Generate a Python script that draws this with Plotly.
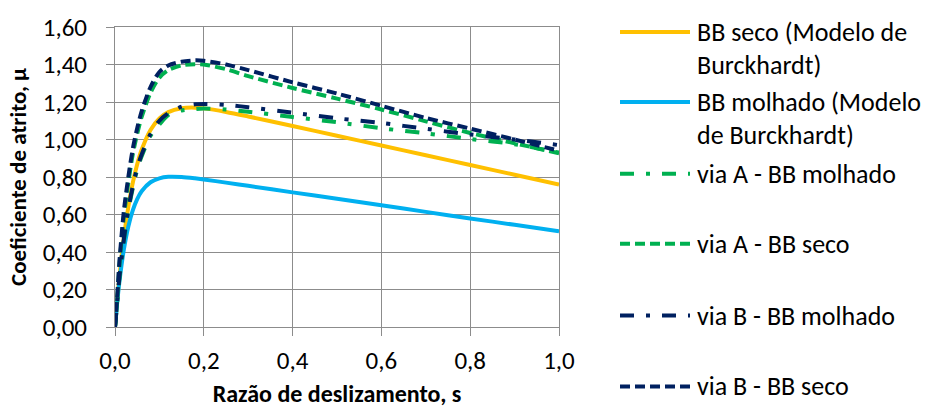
import plotly.graph_objects as go

# slip ratio grid
s = [0, 0.005, 0.01, 0.02, 0.03, 0.04, 0.05, 0.06, 0.08, 0.10, 0.12, 0.15,
     0.18, 0.2, 0.25, 0.3, 0.4, 0.5, 0.6, 0.7, 0.8, 0.9, 1.0]

bb_seco_burck = [0, 0.142, 0.268, 0.478, 0.641, 0.769, 0.868, 0.945, 1.051, 1.112, 1.146, 1.167,
                 1.170, 1.166, 1.147, 1.123, 1.072, 1.020, 0.968, 0.916, 0.864, 0.812, 0.760]
bb_molhado_burck = [0, 0.132, 0.243, 0.414, 0.536, 0.622, 0.682, 0.724, 0.772, 0.793, 0.801, 0.800,
                    0.793, 0.787, 0.770, 0.753, 0.718, 0.684, 0.649, 0.614, 0.579, 0.545, 0.510]
via_a_molhado = [0, 0.13, 0.26, 0.46, 0.62, 0.74, 0.84, 0.91, 1.02, 1.08, 1.13, 1.155,
                 1.162, 1.165, 1.160, 1.148, 1.120, 1.092, 1.060, 1.033, 1.003, 0.975, 0.930]
via_a_seco = [0, 0.15, 0.33, 0.59, 0.77, 0.92, 1.03, 1.12, 1.25, 1.33, 1.37, 1.395,
              1.402, 1.400, 1.375, 1.338, 1.275, 1.218, 1.160, 1.097, 1.035, 0.980, 0.927]
via_b_molhado = [0, 0.14, 0.27, 0.47, 0.63, 0.75, 0.85, 0.92, 1.03, 1.10, 1.14, 1.175,
                 1.188, 1.190, 1.185, 1.172, 1.143, 1.113, 1.088, 1.057, 1.027, 1.000, 0.970]
via_b_seco = [0, 0.16, 0.35, 0.62, 0.80, 0.95, 1.06, 1.15, 1.28, 1.36, 1.395, 1.415,
              1.422, 1.420, 1.400, 1.370, 1.305, 1.245, 1.180, 1.115, 1.058, 1.000, 0.940]

x_ticks = [0, 0.2, 0.4, 0.6, 0.8, 1.0]
y_ticks = [0, 0.2, 0.4, 0.6, 0.8, 1.0, 1.2, 1.4, 1.6]

names = ["BB seco (Modelo de<br>Burckhardt)", "BB molhado (Modelo<br>de Burckhardt)",
         "via A - BB molhado", "via A - BB seco", "via B - BB molhado", "via B - BB seco"]
series = [bb_seco_burck, bb_molhado_burck, via_a_molhado, via_a_seco, via_b_molhado, via_b_seco]
colors = ["#FFC000", "#00B0F0", "#00B050", "#00B050", "#002060", "#002060"]
dashes = ["solid", "solid", "14px,12px,4px,12px", "10px,5px", "14px,12px,4px,12px", "10px,5px"]

FONT = "Calibri, Carlito, Lato, sans-serif"
FS = 25
W, H = 928, 414
L, R, T, B = 115, 559, 27, 327.5
GRID = "#8c8c8c"

fig = go.Figure()
for name, ys, c, d in zip(names, series, colors, dashes):
    fig.add_trace(go.Scatter(x=s, y=ys, mode="lines", name=name.replace("<br>", " "),
                             line=dict(color=c, width=4, dash=d, shape="spline", smoothing=0.8),
                             showlegend=False))

def px2paper(px, py):
    return (px - L) / (R - L), (B - py) / (B - T)

# manual legend (evenly spaced like the reference)
leg_y = [32, 102, 174, 244, 316, 387]
for name, c, d, ly in zip(names, colors, dashes, leg_y):
    x0, y0 = px2paper(620, ly)
    x1, _ = px2paper(690, ly)
    fig.add_shape(type="line", xref="paper", yref="paper", x0=x0, x1=x1, y0=y0, y1=y0,
                  line=dict(color=c, width=4, dash=d))
    for i, part in enumerate(name.split("<br>")):
        tx, ty = px2paper(695, ly + i * 33)
        fig.add_annotation(xref="paper", yref="paper", x=tx, y=ty, text=part, showarrow=False,
                           xanchor="left", yanchor="middle", align="left",
                           font=dict(family=FONT, size=26, color="#000000"))

fig.update_layout(
    width=W, height=H,
    margin=dict(l=L, r=W - R, t=T, b=H - B, pad=0, autoexpand=False),
    paper_bgcolor="white", plot_bgcolor="white",
    separators=",.",
    font=dict(family=FONT, size=FS, color="#000000"),
    showlegend=False,
)
fig.update_xaxes(range=[0, 1.0], tickvals=x_ticks, tickformat=".1f", automargin=False,
                 showgrid=True, gridcolor=GRID, gridwidth=1,
                 showline=True, linecolor=GRID, linewidth=1, mirror=True, zeroline=False,
                 ticks="outside", ticklen=8, tickcolor=GRID, ticklabelstandoff=3,
                 tickfont=dict(family=FONT, size=FS, color="#000000"),
                 title=dict(text="<b>Razão de deslizamento, s</b>", standoff=10,
                            font=dict(family=FONT, size=24, color="#000000")))
fig.update_yaxes(range=[0, 1.6], tickvals=y_ticks, tickformat=".2f", automargin=False,
                 showgrid=True, gridcolor=GRID, gridwidth=1,
                 showline=True, linecolor=GRID, linewidth=1, mirror=True, zeroline=False,
                 ticks="outside", ticklen=8, tickcolor=GRID, ticklabelstandoff=14,
                 tickfont=dict(family=FONT, size=FS, color="#000000"),
                 title=dict(text="<b>Coeficiente de atrito, μ</b>", standoff=9,
                            font=dict(family=FONT, size=23, color="#000000")))

fig.write_html("out.html")
